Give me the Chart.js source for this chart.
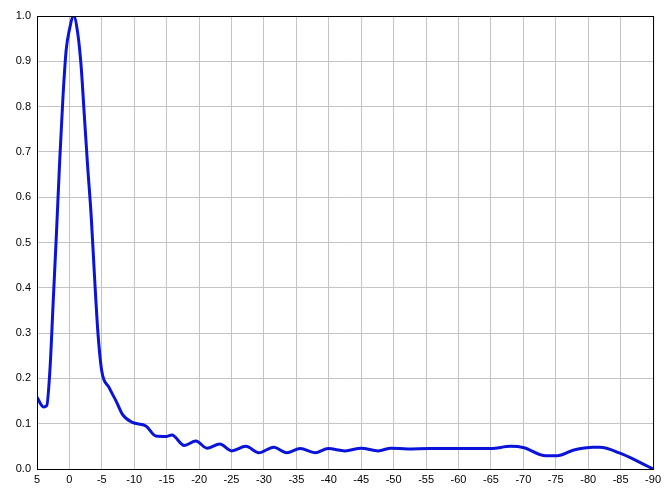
<!DOCTYPE html>
<html>
<head>
<meta charset="utf-8">
<script src="https://cdn.jsdelivr.net/npm/chart.js@4/dist/chart.umd.min.js"></script>
<style>
  html, body { margin: 0; padding: 0; background: #fff; }
  #wrap { width: 665px; height: 489px; }
</style>
</head>
<body>
<div id="wrap"><canvas id="chart"></canvas></div>
<script>
// x values (decreasing, the axis runs 5 -> -90) and the curve
const xs = [5, 4, 3.5, 3, 2.5, 2, 1.5, 1, 0.5, 0, -0.65, -1.3, -1.8, -2.3, -2.8, -3.35, -3.85, -4.4, -5,
  -6.1, -7.2, -8.2, -9.7, -11.8, -13.3, -15, -15.8, -17.7, -19.5, -21.2, -23.2, -25, -27.2, -29.2,
  -31.5, -33.5, -35.6, -37.9, -39.9, -42.5, -45, -47.6, -49.6, -52.2, -55.5, -60, -65, -68, -70.1,
  -73.1, -75.2, -77.8, -80.8, -81.8, -84.9, -87.5, -90];
const ys = [0.158, 0.137, 0.14, 0.22, 0.37, 0.52, 0.68, 0.82, 0.925, 0.97, 1.0, 0.96, 0.89, 0.78, 0.67, 0.56, 0.43, 0.30, 0.215,
  0.18, 0.15, 0.12, 0.103, 0.095, 0.073, 0.072, 0.075, 0.052, 0.062, 0.046, 0.055, 0.04, 0.05, 0.036,
  0.048, 0.036, 0.045, 0.036, 0.045, 0.04, 0.046, 0.04, 0.046, 0.044, 0.045, 0.045, 0.045, 0.05, 0.047,
  0.03, 0.029, 0.042, 0.048, 0.048, 0.035, 0.018, 0.0];

const xMin = -90, xMax = 5, xStep = 5;
const yMin = 0, yMax = 1, yStep = 0.1;

const points = xs.map((x, i) => ({ x, y: ys[i] }));

// black frame round the plot area
const framePlugin = {
  id: 'frame',
  afterDraw(chart) {
    const { ctx, chartArea: a } = chart;
    ctx.save();
    ctx.strokeStyle = '#000';
    ctx.lineWidth = 1;
    ctx.strokeRect(a.left + 0.5, a.top + 0.5, a.right - a.left, a.bottom - a.top);
    ctx.restore();
  },
};

const tickFont = { family: 'Liberation Sans, Arial, sans-serif', size: 11 };

new Chart(document.getElementById('chart'), {
  type: 'scatter',
  data: {
    datasets: [{
      data: points,
      showLine: true,
      borderColor: '#0a14d8',
      borderWidth: 3,
      pointRadius: 0,
      cubicInterpolationMode: 'monotone',
    }],
  },
  options: {
    responsive: true,
    maintainAspectRatio: false,
    animation: false,
    layout: { padding: { top: 16, right: 9, left: 0, bottom: 0 } },
    plugins: { legend: { display: false }, tooltip: { enabled: false } },
    scales: {
      x: {
        type: 'linear',
        reverse: true,
        min: xMin,
        max: xMax,
        grid: { color: '#c4c4c4', drawTicks: false },
        border: { color: '#000' },
        ticks: { stepSize: xStep, color: '#000', font: tickFont, padding: 4, maxRotation: 0, autoSkip: false },
        afterFit(scale) { scale.height = 20; },
      },
      y: {
        min: yMin,
        max: yMax,
        grid: { color: '#c4c4c4', drawTicks: false },
        border: { color: '#000' },
        ticks: {
          stepSize: yStep, color: '#000', font: tickFont, padding: 6,
          callback: (v) => v.toFixed(1),
        },
        afterFit(scale) { scale.width = 37; },
      },
    },
  },
  plugins: [framePlugin],
});
</script>
</body>
</html>
